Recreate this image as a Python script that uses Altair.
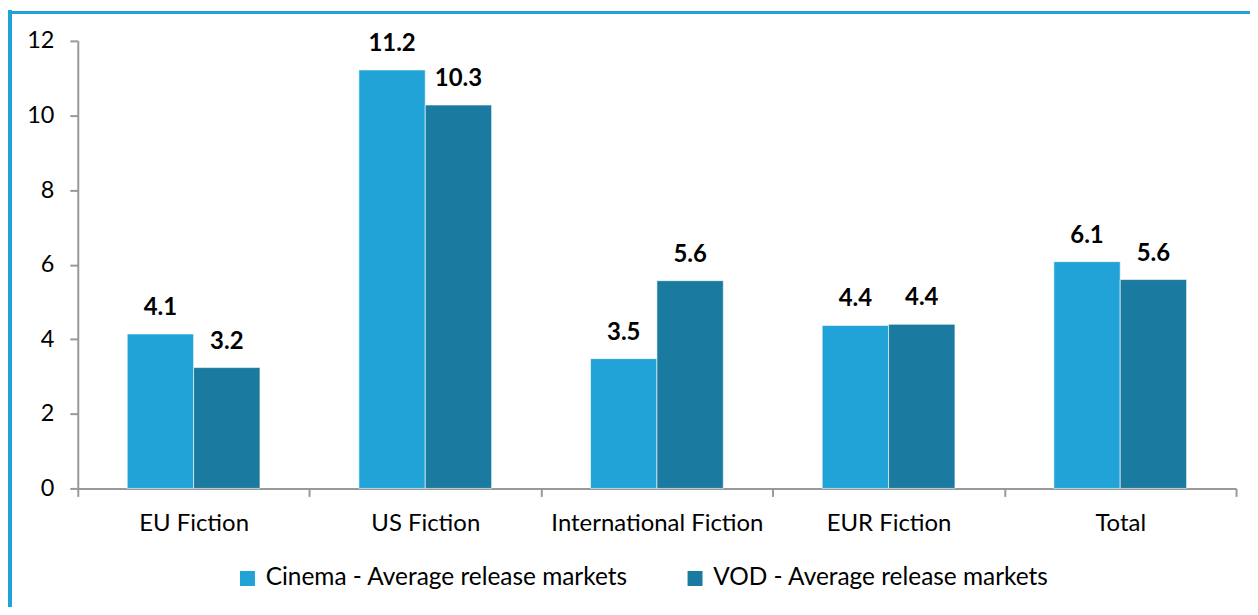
import altair as alt
import pandas as pd

categories = ["EU Fiction", "US Fiction", "International Fiction", "EUR Fiction", "Total"]
series = ["Cinema - Average release markets", "VOD - Average release markets"]
cinema = [4.14, 11.22, 3.48, 4.37, 6.08]
vod = [3.24, 10.28, 5.57, 4.40, 5.60]
y_ticks = [0, 2, 4, 6, 8, 10, 12]
colors = ["#22A3D7", "#1A7A9F"]

rows = []
for i, c in enumerate(categories):
    rows.append({"cat": c, "series": series[0], "value": cinema[i]})
    rows.append({"cat": c, "series": series[1], "value": vod[i]})
df = pd.DataFrame(rows)

FONT = "Lato"

x = alt.X("cat:N", sort=categories, title=None,
          scale=alt.Scale(paddingInner=0, paddingOuter=0),
          axis=alt.Axis(labelAngle=0, labelFontSize=24, labelFont=FONT, labelColor="#000000",
                        domainColor="#999999", tickColor="#999999", tickSize=8, tickWidth=2,
                        domainWidth=2, labelPadding=15, tickBand="extent", labelLimit=400))
y = alt.Y("value:Q", title=None,
          scale=alt.Scale(domain=[0, 12], nice=False),
          axis=alt.Axis(values=y_ticks, labelFontSize=23.5, labelFont=FONT, labelColor="#000000",
                        domainColor="#999999", tickColor="#999999", tickSize=8, tickWidth=2,
                        domainWidth=2, labelPadding=16, grid=False))
xo = alt.XOffset("series:N", sort=series, scale=alt.Scale(paddingInner=0, paddingOuter=0.745))

base = alt.Chart(df)

bars = base.mark_bar(stroke="#ffffff", strokeWidth=1, strokeOpacity=0.6).encode(
    x=x, y=y, xOffset=xo,
    color=alt.Color("series:N", sort=series,
                    scale=alt.Scale(domain=series, range=colors),
                    legend=alt.Legend(title=None, orient="none", legendX=158, legendY=527,
                                      direction="horizontal", symbolType="square", symbolSize=225,
                                      symbolStrokeWidth=0, labelFontSize=24.5, labelFont=FONT,
                                      labelColor="#000000", labelOffset=6, columnPadding=54,
                                      labelLimit=500))
)

labels = base.mark_text(fontSize=24, font=FONT, fontWeight="bold", baseline="alphabetic",
                        dy=-19, color="#000000").encode(
    x=x, y=y, xOffset=xo,
    text=alt.Text("value:Q", format=".1f")
)

border_left = alt.Chart(df).mark_rule(color="#22A3D7", strokeWidth=5).encode(
    x=alt.value(-68.5), y=alt.value(-31), y2=alt.value(700))
border_top = alt.Chart(df).mark_rule(color="#22A3D7", strokeWidth=3).encode(
    x=alt.value(-71), x2=alt.value(1300), y=alt.value(-28.5))

chart = alt.layer(bars, labels, border_left, border_top).properties(
    width=1162, height=449,
    autosize=alt.AutoSizeParams(type="none"),
    padding={"left": 70, "top": 32, "right": 14, "bottom": 118}
).configure(font=FONT).configure_view(stroke=None)

chart.save("out.html", embed_options={"renderer": "svg", "actions": False})
